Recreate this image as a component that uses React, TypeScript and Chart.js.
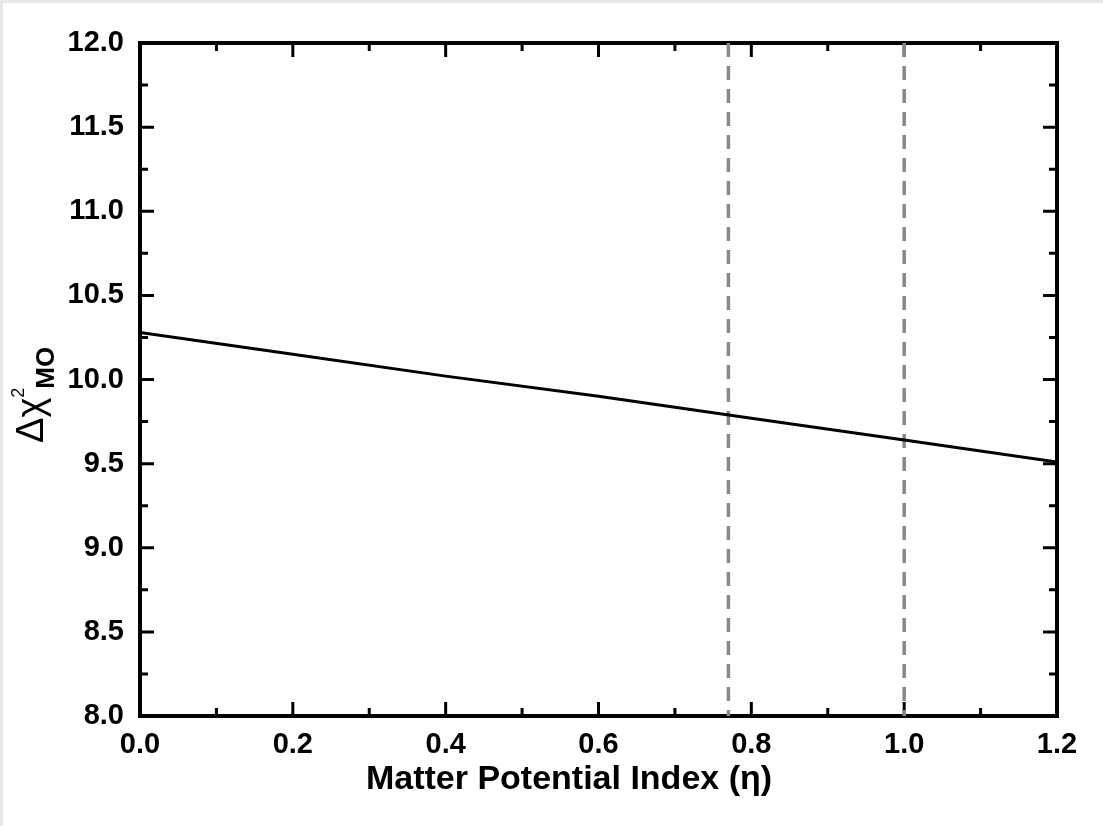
import React, { useEffect, useRef } from 'react';
import { Chart, registerables } from 'chart.js';

Chart.register(...registerables);

// ---- data ----
const etaValues = [0, 0.2, 0.4, 0.6, 0.8, 1.0, 1.2];
const chiValues = [10.28, 10.15, 10.02, 9.9, 9.77, 9.64, 9.51];
const markerEtas = [0.77, 1.0];
const xRange = [0, 1.2];
const yRange = [8, 12];
const xTickStep = 0.2;
const yTickStep = 0.5;
const xTitle = 'Matter Potential Index (η)';
const yTitleMain = 'Δχ';
const yTitleSup = '2';
const yTitleSub = 'MO';

const FONT = '"Liberation Sans", Arial, Helvetica, sans-serif';

const framePlugin = {
  id: 'frameTicks',
  beforeDatasetsDraw(chart: any) {
    const { ctx, chartArea: a, scales } = chart;
    const xs = scales.x;
    const ys = scales.y;
    ctx.save();
    ctx.strokeStyle = '#000';
    ctx.lineCap = 'butt';
    ctx.lineWidth = 3;
    const major = 14;
    const minor = 8;
    const nx = Math.round((xRange[1] - xRange[0]) / (xTickStep / 2));
    for (let i = 0; i <= nx; i++) {
      const v = xRange[0] + (i * xTickStep) / 2;
      const px = xs.getPixelForValue(v);
      const len = i % 2 === 0 ? major : minor;
      ctx.beginPath();
      ctx.moveTo(px, a.bottom);
      ctx.lineTo(px, a.bottom - len);
      ctx.moveTo(px, a.top);
      ctx.lineTo(px, a.top + len);
      ctx.stroke();
    }
    const ny = Math.round((yRange[1] - yRange[0]) / (yTickStep / 2));
    for (let i = 0; i <= ny; i++) {
      const v = yRange[0] + (i * yTickStep) / 2;
      const py = ys.getPixelForValue(v);
      const len = i % 2 === 0 ? major : minor;
      ctx.beginPath();
      ctx.moveTo(a.left, py);
      ctx.lineTo(a.left + len, py);
      ctx.moveTo(a.right, py);
      ctx.lineTo(a.right - len, py);
      ctx.stroke();
    }
    ctx.lineWidth = 4;
    ctx.strokeRect(a.left, a.top, a.right - a.left, a.bottom - a.top);
    ctx.restore();
  },
  afterDraw(chart: any) {
    const { ctx } = chart;
    ctx.save();
    ctx.fillStyle = '#000';
    // x axis title
    ctx.textAlign = 'center';
    ctx.textBaseline = 'alphabetic';
    ctx.font = `bold 34px ${FONT}`;
    ctx.fillText(xTitle, 566, 786);
    // y axis title
    ctx.translate(40, 440);
    ctx.rotate(-Math.PI / 2);
    ctx.textAlign = 'left';
    ctx.font = `normal 38px ${FONT}`;
    ctx.fillText(yTitleMain, 0, 0);
    const w = ctx.measureText(yTitleMain).width;
    ctx.font = `normal 18px ${FONT}`;
    ctx.fillText(yTitleSup, w, -19);
    ctx.font = `bold 26px ${FONT}`;
    ctx.fillText(yTitleSub, w + 9, 11);
    ctx.restore();
  },
};

export default function App() {
  const ref = useRef<HTMLCanvasElement | null>(null);

  useEffect(() => {
    if (!ref.current) return;
    const mainData = etaValues.map((x, i) => ({ x, y: chiValues[i] }));
    const markerSets = markerEtas.map((m) => ({
      data: [
        { x: m, y: yRange[1] },
        { x: m, y: yRange[0] },
      ],
      borderColor: '#888888',
      borderWidth: 3.5,
      borderDash: [14, 9],
      pointRadius: 0,
      fill: false,
    }));
    const chart = new Chart(ref.current, {
      type: 'line',
      data: {
        datasets: [
          {
            data: mainData,
            borderColor: '#000',
            borderWidth: 3,
            pointRadius: 0,
            fill: false,
            tension: 0,
          },
          ...markerSets,
        ],
      },
      options: {
        animation: false,
        responsive: false,
        maintainAspectRatio: false,
        layout: { padding: { top: 40, right: 46, left: 0, bottom: 0 } },
        plugins: {
          legend: { display: false },
          tooltip: { enabled: false },
        },
        scales: {
          x: {
            type: 'linear',
            min: xRange[0],
            max: xRange[1],
            afterFit: (s: any) => {
              s.height = 110;
            },
            grid: { display: false, drawTicks: false },
            border: { display: false },
            ticks: {
              stepSize: xTickStep,
              autoSkip: false,
              maxRotation: 0,
              padding: 12,
              color: '#000',
              font: { family: FONT, weight: 'bold', size: 29 },
              callback: (v: any) => Number(v).toFixed(1),
            },
            title: { display: false },
          },
          y: {
            type: 'linear',
            min: yRange[0],
            max: yRange[1],
            afterFit: (s: any) => {
              s.width = 137;
            },
            grid: { display: false, drawTicks: false },
            border: { display: false },
            ticks: {
              stepSize: yTickStep,
              autoSkip: false,
              padding: 16,
              color: '#000',
              font: { family: FONT, weight: 'bold', size: 29 },
              callback: (v: any) => Number(v).toFixed(1),
            },
          },
        },
      },
      plugins: [framePlugin],
    } as any);
    return () => chart.destroy();
  }, []);

  return (
    <div
      style={{
        position: 'fixed',
        left: 0,
        top: 0,
        width: 1103,
        height: 826,
        background: '#e8e8e8',
      }}
    >
      <div
        style={{
          position: 'absolute',
          left: 3,
          top: 3,
          width: 1100,
          height: 823,
          background: '#fff',
        }}
      >
        <canvas ref={ref} width={1100} height={823} style={{ display: 'block' }} />
      </div>
    </div>
  );
}
